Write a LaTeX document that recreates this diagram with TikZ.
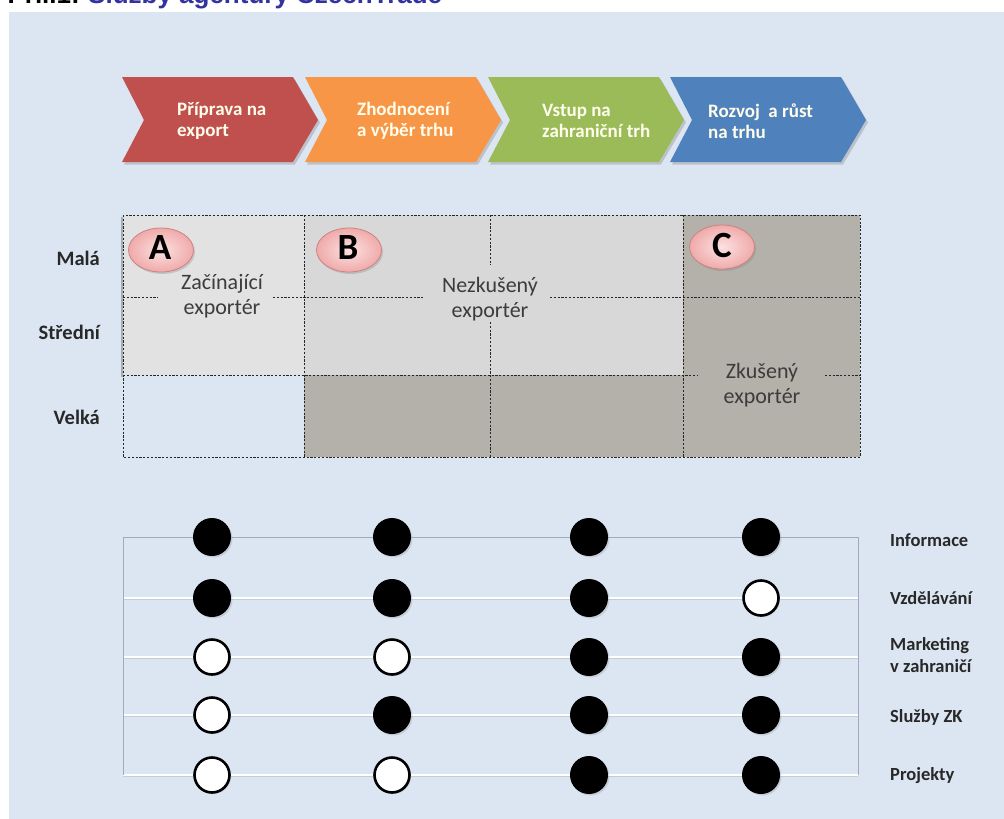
\documentclass[tikz,border=0pt]{standalone}
\usepackage{fontspec}
\setmainfont{Carlito}
\newfontfamily\titlefont{Liberation Sans}
\usetikzlibrary{shadows,shapes.geometric}
\definecolor{panel}{RGB}{220,230,242}
\definecolor{cred}{RGB}{192,80,77}
\definecolor{corange}{RGB}{247,150,70}
\definecolor{cgreen}{RGB}{155,187,89}
\definecolor{cblue}{RGB}{79,129,189}
\definecolor{titleblue}{RGB}{51,51,160}
\definecolor{lightA}{RGB}{226,226,226}
\definecolor{lightB}{RGB}{216,216,216}
\definecolor{darkcell}{RGB}{180,177,170}
\definecolor{pinkfill}{RGB}{240,170,170}
\definecolor{pinkin}{RGB}{252,225,225}
\definecolor{pinkborder}{RGB}{205,130,130}
\definecolor{txtgray}{RGB}{60,60,60}
\definecolor{lbl}{RGB}{40,40,40}
\definecolor{framegray}{RGB}{160,170,185}
\definecolor{rowline}{RGB}{195,205,218}
\definecolor{chevwhite}{RGB}{255,253,235}
\begin{document}
\begin{tikzpicture}[x=1pt,y=-1pt,
  chevshadow/.style={drop shadow={opacity=0.35,shadow xshift=2pt,shadow yshift=-2.5pt}},
  chevtext/.style={anchor=west, align=left, text=chevwhite, inner sep=0pt,
    font=\fontsize{19}{21}\selectfont\bfseries},
  gridline/.style={draw=black!85, line width=0.8pt, dash pattern=on 2.2pt off 1.6pt},
  gridtext/.style={align=center, text=txtgray, inner sep=0pt,
    font=\fontsize{22}{24.5}\selectfont},
  rowlabel/.style={anchor=east, text=lbl, inner sep=0pt,
    font=\fontsize{20.5}{22}\selectfont\bfseries},
  badge/.style={ellipse, minimum width=65pt, minimum height=44pt, draw=pinkborder,
    line width=0.8pt, inner color=pinkin, outer color=pinkfill, inner sep=0pt,
    drop shadow={opacity=0.3,shadow xshift=1.5pt,shadow yshift=-2pt}},
  badgeletter/.style={anchor=base, inner sep=0pt, text=black,
    font=\fontsize{37}{40}\selectfont\bfseries},
  full/.style={circle, minimum size=38pt, inner sep=0pt, fill=black,
    drop shadow={opacity=0.25,shadow xshift=1.5pt,shadow yshift=-1.5pt}},
  empty/.style={circle, minimum size=35pt, inner sep=0pt, fill=white, draw=black,
    line width=2.6pt,
    drop shadow={opacity=0.25,shadow xshift=1.5pt,shadow yshift=-1.5pt}},
  svclabel/.style={anchor=west, align=left, text=lbl, inner sep=0pt,
    font=\fontsize{18.5}{22}\selectfont\bfseries}
]
\useasboundingbox (0,0) rectangle (1004,819);
\fill[white] (0,0) rectangle (1004,819);
\fill[panel] (9,12) rectangle (1004,819);

% cut-off title
\begin{scope}
\clip (0,0) rectangle (1004,12);
\node[anchor=base east, inner sep=0pt, font=\titlefont\bfseries\fontsize{26}{28}\selectfont] (titleA) at (80,3) {Příl.1:};
\node[anchor=base west, inner sep=0pt, text=titleblue, font=\titlefont\bfseries\fontsize{26}{28}\selectfont] (titleB) at (88,3) {Služby agentury CzechTrade};
\end{scope}

% chevrons
\foreach \L/\col in {122/cred,305/corange,488/cgreen,670/cblue}{
  \fill[\col, chevshadow] (\L,77) -- (\L+171,77) -- (\L+196,120) -- (\L+171,162)
    -- (\L,162) -- (\L+22,120) -- cycle;
}
\node[chevtext] (c1) at (177,121) {Příprava na\\export};
\node[chevtext] (c2) at (357,121) {Zhodnocení\\a výběr trhu};
\node[chevtext] (c3) at (542,121) {Vstup na\\zahraniční trh};
\node[chevtext] (c4) at (708,121) {Rozvoj~ a růst\\na trhu};

% grid fills
\fill[lightA] (123,215) rectangle (304,375);
\fill[lightB] (304,215) rectangle (683,375);
\fill[darkcell] (304,375) rectangle (683,457);
\fill[darkcell] (683,215) rectangle (860,457);
\fill[black, opacity=0.25] (121,217) rectangle (123,377);

% dashed grid
\draw[gridline] (123,215) rectangle (860,457);
\draw[gridline] (304,215) -- (304,457);
\draw[gridline] (490,215) -- (490,265);
\draw[gridline] (490,322) -- (490,457);
\draw[gridline] (683,215) -- (683,457);
\draw[gridline] (123,297) -- (158,297);
\draw[gridline] (273,297) -- (423,297);
\draw[gridline] (550,297) -- (860,297);
\draw[gridline] (123,375) -- (698,375);
\draw[gridline] (825,375) -- (860,375);

\node[gridtext] (tA) at (222,296) {Začínající\\exportér};
\node[gridtext] (tB) at (490,299) {Nezkušený\\exportér};
\node[gridtext] (tC) at (762,385) {Zkušený\\exportér};

\node[badge] (A) at (161,250) {};
\node[badge] (B) at (349,250) {};
\node[badge] (C) at (722,247) {};
\node[badgeletter] (lA) at (160,259) {A};
\node[badgeletter] (lB) at (348,259) {B};
\node[badgeletter] (lC) at (722,257) {C};

\node[rowlabel] (mala) at (100,258) {Malá};
\node[rowlabel] (stredni) at (100,332) {Střední};
\node[rowlabel] (velka) at (100,417) {Velká};

% bottom frame
\foreach \y in {598,657,715,775}{
  \draw[rowline, line width=1pt] (123,\y+1) -- (858,\y+1);
  \draw[white, line width=1.2pt] (123,\y) -- (858,\y);
}
\draw[framegray, line width=1pt] (123,537) -- (858,537);
\draw[framegray, line width=1pt] (123,537) -- (123,775);
\draw[framegray, line width=1pt] (858,537) -- (858,775);

% dots
\node[full] (d11) at (212,537) {};
\node[full] (d12) at (392,537) {};
\node[full] (d13) at (589,537) {};
\node[full] (d14) at (761,537) {};
\node[full] (d21) at (212,598) {};
\node[full] (d22) at (392,598) {};
\node[full] (d23) at (589,598) {};
\node[empty] (d24) at (761,598) {};
\node[empty] (d31) at (212,657) {};
\node[empty] (d32) at (392,657) {};
\node[full] (d33) at (589,657) {};
\node[full] (d34) at (761,657) {};
\node[empty] (d41) at (212,715) {};
\node[full] (d42) at (392,715) {};
\node[full] (d43) at (589,715) {};
\node[full] (d44) at (761,715) {};
\node[empty] (d51) at (212,775) {};
\node[empty] (d52) at (392,775) {};
\node[full] (d53) at (589,775) {};
\node[full] (d54) at (761,775) {};

\node[svclabel] (s1) at (890,540) {Informace};
\node[svclabel] (s2) at (890,598) {Vzdělávání};
\node[svclabel] (s3) at (890,655) {Marketing\\v zahraničí};
\node[svclabel] (s4) at (890,717) {Služby ZK};
\node[svclabel] (s5) at (890,776) {Projekty};
\end{tikzpicture}
\end{document}
